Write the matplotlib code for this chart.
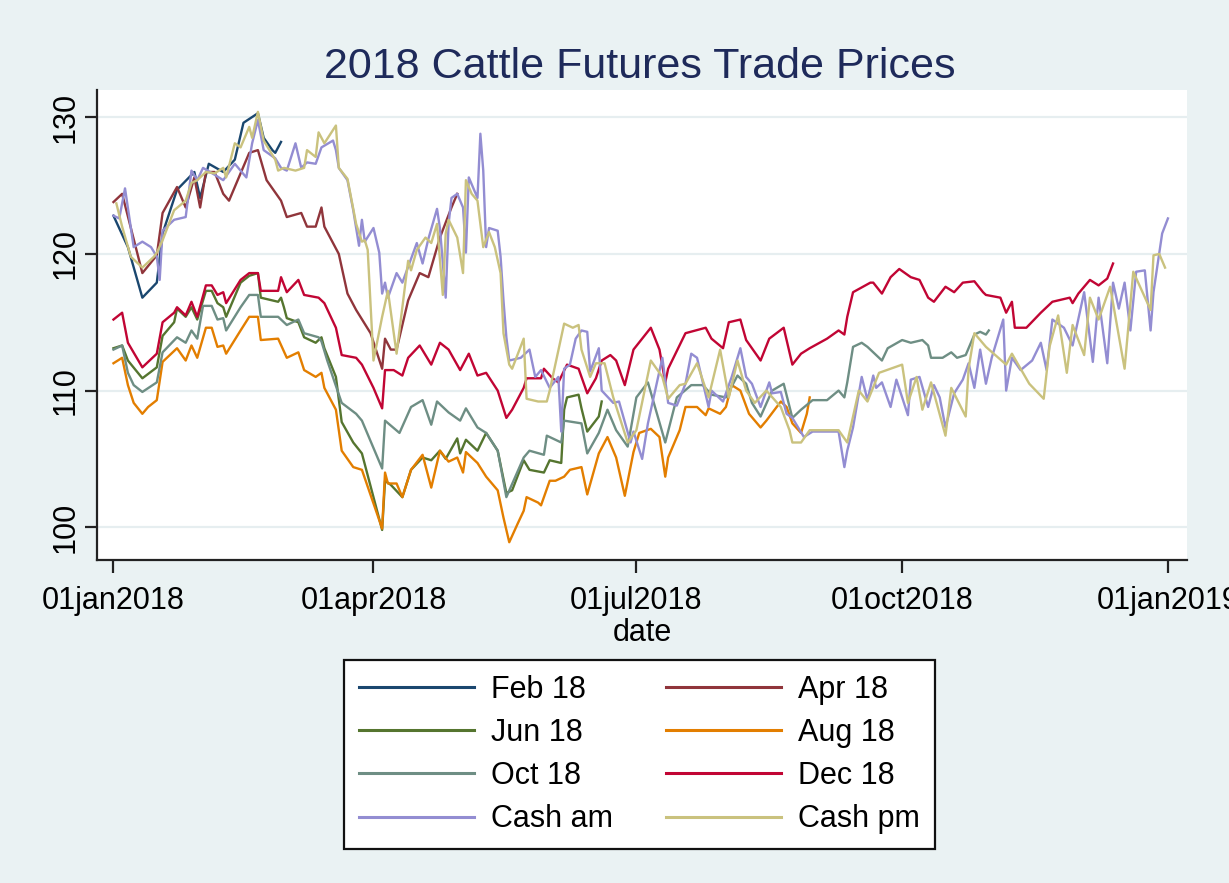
import numpy as np
import matplotlib
matplotlib.use("Agg")
import matplotlib.pyplot as plt
import matplotlib.dates as mdates

plt.rcParams['font.family'] = ['Liberation Sans', 'DejaVu Sans']

title = "2018 Cattle Futures Trade Prices"
base_date = "2018-01-01"
tick_dates = ["2018-01-01", "2018-04-01", "2018-07-01", "2018-10-01", "2019-01-01"]
tick_labels = ["01jan2018", "01apr2018", "01jul2018", "01oct2018", "01jan2019"]
y_ticks = [100, 110, 120, 130]

# day offsets from 01jan2018 and prices
feb_days = [0, 5, 10, 15, 17, 22, 28, 30, 33, 38, 42, 45, 50, 52, 55, 56, 58]
feb_vals = [122.8, 120.5, 116.8, 117.9, 121.5, 124.7, 126.0, 124.1, 126.6, 126.0, 126.9, 129.6, 130.3, 128.5, 127.6, 127.4, 128.2]

apr_days = [0, 3, 10, 15, 17, 22, 25, 28, 30, 32, 35, 38, 40, 44, 47, 50, 53, 58, 60, 65, 67, 70, 72, 73, 78,
            81, 84, 89, 93, 94, 96, 98, 102, 106, 109, 113, 117, 119]
apr_vals = [123.8, 124.4, 118.6, 119.9, 123.0, 124.9, 123.4, 125.6, 123.4, 126.0, 126.0, 124.4, 123.9, 125.9,
            127.4, 127.6, 125.4, 123.9, 122.7, 123.0, 122.0, 122.0, 123.4, 122.0, 120.0, 117.1, 115.9, 114.2,
            111.6, 113.8, 113.0, 113.0, 116.6, 118.6, 118.3, 121.2, 123.4, 124.4]

jun_days = [0, 3, 5, 10, 15, 17, 21, 22, 25, 27, 29, 32, 34, 36, 38, 39, 44, 47, 50, 51, 57, 58, 59, 60, 64,
            66, 70, 72, 73, 77, 79, 83, 86, 93, 94, 96, 100, 103, 107, 110, 113, 115, 119, 120, 122, 126, 129,
            133, 136, 138, 142, 144, 149, 151, 155, 156, 157, 161, 162, 164, 168, 169]
jun_vals = [113.1, 113.3, 112.2, 110.9, 111.7, 114.0, 115.0, 116.0, 115.4, 116.1, 115.2, 117.3, 117.3, 116.4,
            116.1, 115.4, 117.9, 118.4, 118.6, 116.8, 116.5, 116.8, 116.1, 115.3, 115.0, 113.9, 113.5, 113.9,
            113.1, 111.0, 107.7, 106.2, 105.4, 99.8, 103.4, 103.1, 102.2, 104.2, 105.1, 104.9, 105.6, 105.0,
            106.5, 105.4, 106.4, 105.6, 106.9, 105.6, 102.5, 102.7, 104.9, 104.2, 104.0, 104.9, 104.7, 108.6,
            109.5, 109.7, 108.7, 107.0, 108.1, 109.2]

aug_days = [0, 3, 5, 7, 10, 12, 15, 17, 22, 25, 27, 29, 32, 34, 36, 38, 39, 44, 47, 50, 51, 57, 60, 64, 66,
            70, 72, 73, 77, 79, 83, 86, 93, 94, 95, 98, 100, 103, 107, 110, 113, 116, 119, 121, 122, 126, 129,
            133, 135, 137, 140, 142, 143, 147, 148, 151, 153, 156, 158, 160, 162, 164, 168, 171, 174, 177, 180,
            182, 186, 189, 191, 192, 196, 198, 202, 205, 206, 210, 212, 214, 217, 220, 224, 226, 231, 233, 235,
            238, 240, 241]
aug_vals = [112.0, 112.4, 110.4, 109.1, 108.3, 108.8, 109.3, 112.1, 113.1, 112.2, 113.3, 112.4, 114.6, 114.6,
            113.2, 113.3, 112.7, 114.4, 115.4, 115.4, 113.7, 113.8, 112.4, 112.8, 111.5, 111.0, 111.3, 110.2,
            108.6, 105.6, 104.4, 104.2, 99.9, 104.0, 103.2, 103.2, 102.2, 104.2, 105.3, 102.9, 105.6, 104.8,
            105.1, 104.0, 105.5, 104.7, 103.7, 102.7, 100.7, 98.9, 100.3, 101.2, 102.2, 101.8, 101.6, 103.4,
            103.4, 103.7, 104.2, 104.3, 104.4, 102.4, 105.4, 106.6, 105.1, 102.3, 105.5, 106.9, 107.2, 106.6,
            103.7, 105.1, 107.1, 108.8, 108.8, 108.2, 108.7, 108.3, 108.8, 110.4, 110.0, 108.3, 107.3, 107.8,
            109.2, 108.8, 107.6, 106.9, 108.3, 109.5]

oct_days = [0, 3, 5, 7, 10, 15, 17, 22, 25, 27, 29, 31, 34, 36, 38, 39, 44, 47, 50, 51, 57, 60, 64, 66, 71,
            72, 74, 79, 84, 86, 93, 94, 99, 103, 107, 110, 112, 116, 120, 122, 126, 129, 133, 136, 142, 144,
            149, 150, 155, 156, 162, 164, 168, 171, 174, 178, 181, 185, 191, 195, 200, 204, 207, 212, 216, 219,
            221, 224, 228, 232, 235, 238, 242, 247, 251, 253, 254, 256, 259, 261, 263, 266, 268, 273, 276, 280,
            282, 283, 287, 290, 292, 295, 298, 300, 302, 303]
oct_vals = [113.0, 113.3, 111.3, 110.4, 109.9, 110.6, 112.8, 113.9, 113.5, 114.4, 113.8, 116.2, 116.2, 115.2,
            115.3, 114.4, 116.1, 117.0, 117.0, 115.4, 115.4, 114.8, 115.2, 114.2, 113.9, 113.6, 112.2, 109.1,
            108.3, 107.8, 104.3, 107.8, 106.9, 108.8, 109.3, 107.5, 109.2, 108.4, 107.8, 108.7, 107.3, 106.9,
            105.6, 102.2, 105.1, 105.6, 105.3, 106.7, 106.2, 107.8, 107.6, 105.4, 106.9, 108.6, 107.1, 105.9,
            109.5, 110.6, 106.2, 109.5, 110.4, 110.4, 109.7, 109.5, 111.1, 110.5, 109.1, 108.1, 110.0, 110.5,
            108.0, 108.6, 109.3, 109.3, 110.0, 109.5, 110.6, 113.2, 113.5, 113.2, 112.8, 112.2, 113.1, 113.7,
            113.5, 113.7, 113.3, 112.4, 112.4, 112.8, 112.4, 112.6, 114.1, 114.3, 114.1, 114.4]

dec_days = [0, 3, 5, 10, 15, 17, 21, 22, 25, 27, 29, 32, 34, 36, 38, 39, 44, 47, 50, 51, 57, 58, 60, 64, 66,
            71, 73, 77, 79, 84, 86, 90, 93, 94, 97, 100, 102, 106, 110, 113, 116, 120, 123, 126, 129, 133, 136,
            138, 142, 143, 148, 149, 152, 154, 157, 161, 164, 167, 169, 172, 174, 177, 180, 186, 189, 191, 192,
            198, 205, 207, 211, 213, 217, 219, 224, 227, 232, 235, 238, 241, 247, 251, 253, 254, 256, 262, 263,
            266, 269, 272, 276, 279, 282, 284, 288, 291, 294, 298, 301, 302, 307, 309, 311, 312, 316, 321, 325,
            331, 332, 334, 338, 341, 344, 346]
dec_vals = [115.2, 115.7, 113.5, 111.7, 112.7, 115.0, 115.7, 116.1, 115.5, 116.5, 115.4, 117.7, 117.7, 117.0,
            117.2, 116.4, 118.1, 118.6, 118.6, 117.3, 117.3, 118.3, 117.2, 118.1, 117.0, 116.8, 116.4, 114.6,
            112.6, 112.4, 111.9, 110.2, 108.7, 111.5, 111.5, 111.1, 112.4, 113.3, 111.9, 113.5, 113.0, 111.5,
            112.7, 111.1, 111.3, 110.0, 108.0, 108.6, 110.2, 110.9, 110.9, 111.6, 110.9, 110.6, 111.9, 111.6,
            109.8, 110.9, 112.2, 112.6, 112.2, 110.4, 113.0, 114.6, 113.0, 110.6, 111.6, 114.2, 114.6, 113.8,
            113.1, 115.0, 115.2, 113.7, 112.2, 113.8, 114.6, 111.9, 112.7, 113.1, 113.8, 114.4, 114.1, 115.4,
            117.2, 117.9, 117.9, 117.1, 118.3, 118.9, 118.3, 118.1, 116.8, 116.5, 117.6, 117.2, 117.9, 118.0,
            117.2, 117.0, 116.8, 115.7, 116.5, 114.6, 114.6, 115.7, 116.5, 116.8, 116.4, 117.1, 118.1, 117.7,
            118.2, 119.3]

cam_days = [0, 2, 4, 7, 10, 13, 15, 16, 17, 21, 25, 27, 29, 31, 35, 38, 42, 44, 46, 48, 50, 52, 56, 58, 60,
            63, 65, 67, 70, 72, 76, 77, 78, 81, 83, 85, 86, 87, 90, 92, 93, 94, 95, 98, 100, 105, 107, 109, 112,
            113, 115, 116, 117, 119, 121, 122, 123, 126, 127, 128, 129, 130, 133, 134, 135, 136, 137, 141, 144,
            146, 148, 151, 154, 155, 156, 158, 160, 162, 164, 165, 168, 169, 173, 175, 179, 180, 183, 185, 188,
            190, 192, 195, 198, 200, 202, 206, 207, 211, 214, 217, 219, 221, 224, 227, 228, 231, 233, 235, 237,
            239, 242, 247, 251, 253, 254, 256, 259, 261, 263, 264, 266, 269, 271, 275, 276, 279, 282, 284, 286,
            288, 291, 294, 296, 298, 300, 302, 304, 308, 309, 311, 314, 318, 321, 323, 325, 329, 332, 336, 339,
            341, 344, 346, 348, 350, 352, 354, 357, 359, 360, 363, 365]
cam_vals = [122.8, 122.6, 124.8, 120.5, 120.9, 120.5, 119.8, 118.1, 121.7, 122.5, 122.7, 126.1, 125.4, 126.3,
            125.8, 125.4, 126.6, 126.1, 125.6, 128.1, 129.8, 127.6, 127.0, 126.3, 126.1, 128.1, 126.3, 126.7,
            126.6, 127.8, 128.3, 127.6, 126.3, 125.4, 123.2, 120.6, 122.5, 120.9, 121.9, 120.1, 117.1, 117.9,
            116.8, 118.6, 117.9, 120.8, 119.3, 121.1, 123.3, 121.9, 116.8, 122.2, 124.1, 124.4, 123.4, 120.1,
            125.6, 124.1, 128.8, 126.1, 120.5, 121.9, 121.7, 119.8, 116.6, 113.9, 112.2, 112.4, 113.0, 111.0,
            111.5, 110.2, 111.0, 107.0, 111.6, 111.9, 113.8, 114.4, 114.3, 111.4, 113.1, 110.0, 109.1, 109.2,
            106.2, 107.0, 105.0, 107.6, 110.5, 112.4, 109.1, 108.9, 110.5, 112.7, 112.4, 108.8, 110.0, 109.2,
            111.0, 113.1, 111.0, 110.5, 108.8, 110.6, 109.8, 109.9, 108.3, 108.0, 107.3, 106.6, 107.0, 107.0,
            107.0, 104.4, 105.6, 107.3, 111.0, 109.3, 111.1, 110.2, 110.6, 108.8, 110.8, 108.2, 110.8, 111.0,
            108.8, 110.4, 109.5, 107.3, 109.8, 110.8, 112.0, 110.2, 113.0, 110.5, 112.4, 115.2, 110.0, 112.4,
            111.5, 112.2, 113.5, 111.5, 115.2, 114.6, 113.3, 117.2, 112.1, 116.8, 112.0, 117.9, 116.0, 117.9,
            114.4, 118.7, 118.8, 114.4, 117.2, 121.5, 122.6]

cpm_days = [1, 3, 6, 10, 14, 15, 17, 21, 25, 27, 29, 32, 35, 38, 39, 42, 44, 47, 48, 50, 52, 56, 57, 59, 63,
            66, 67, 70, 71, 73, 77, 78, 81, 84, 86, 87, 88, 90, 93, 95, 98, 102, 103, 105, 108, 110, 112, 114,
            115, 116, 119, 121, 122, 124, 126, 128, 130, 132, 134, 135, 137, 138, 142, 143, 147, 150, 151, 156,
            159, 161, 162, 165, 167, 170, 173, 178, 181, 186, 190, 192, 196, 198, 202, 206, 210, 213, 216, 219,
            222, 226, 231, 234, 235, 238, 241, 251, 254, 258, 261, 265, 273, 275, 278, 280, 283, 288, 290, 295,
            296, 298, 302, 309, 311, 317, 322, 324, 327, 330, 332, 336, 338, 341, 345, 350, 353, 359, 360, 362,
            364]
cpm_vals = [123.7, 122.0, 119.8, 119.0, 119.8, 120.1, 121.0, 123.2, 123.9, 125.2, 125.4, 126.0, 125.9, 126.3,
            125.6, 128.1, 127.8, 129.3, 128.5, 130.4, 128.3, 126.9, 126.1, 126.3, 126.1, 126.3, 127.6, 127.1,
            128.9, 128.1, 129.4, 126.3, 125.5, 122.2, 120.9, 121.0, 120.3, 112.2, 115.4, 117.3, 112.7, 119.5,
            118.8, 120.3, 121.2, 120.8, 122.2, 117.0, 121.5, 122.5, 121.2, 118.6, 125.4, 124.4, 123.9, 120.5,
            121.6, 120.5, 118.6, 114.2, 111.9, 111.6, 113.8, 109.4, 109.2, 109.2, 110.0, 114.9, 114.6, 114.8,
            113.0, 111.0, 112.0, 112.0, 109.5, 106.2, 107.1, 112.2, 111.0, 109.4, 110.4, 110.5, 112.0, 109.5,
            113.0, 109.5, 112.2, 110.0, 109.1, 110.0, 108.8, 107.1, 106.2, 106.2, 107.1, 107.1, 106.2, 110.0,
            109.2, 111.3, 111.9, 109.1, 111.0, 108.6, 110.6, 106.7, 110.2, 108.1, 111.6, 114.2, 113.2, 111.9,
            112.7, 110.5, 109.4, 113.2, 115.5, 111.3, 114.8, 112.6, 116.8, 115.2, 117.6, 111.6, 118.7, 115.9,
            119.9, 120.0, 119.0]

series = [
    ("Feb 18", feb_days, feb_vals, "#1a476f"),
    ("Apr 18", apr_days, apr_vals, "#90353b"),
    ("Jun 18", jun_days, jun_vals, "#55752f"),
    ("Aug 18", aug_days, aug_vals, "#e37e00"),
    ("Oct 18", oct_days, oct_vals, "#6e8e84"),
    ("Dec 18", dec_days, dec_vals, "#c10534"),
    ("Cash am", cam_days, cam_vals, "#938dd2"),
    ("Cash pm", cpm_days, cpm_vals, "#cac27e"),
]

W, H = 1229, 883
bg = "#eaf2f3"
fig = plt.figure(figsize=(W / 100, H / 100), dpi=100, facecolor=bg)
ax = fig.add_axes([97 / W, 1 - 560 / H, (1187 - 97) / W, (560 - 90) / H])
ax.set_facecolor("white")

start = np.datetime64(base_date)
handles = {}
for name, days, vals, col in series:
    dates = start + np.array(days, dtype="timedelta64[D]")
    ln, = ax.plot(dates, vals, color=col, lw=1.7, label=name, solid_joinstyle="round")
    handles[name] = ln

x0 = mdates.date2num(start)
ax.set_xlim(x0 - 5.7, x0 + 371.6)
ax.set_ylim(97.6, 132.0)

ax.set_xticks([mdates.date2num(np.datetime64(d)) for d in tick_dates])
ax.set_xticklabels(tick_labels)
ax.set_yticks(y_ticks)
ax.set_yticklabels([str(v) for v in y_ticks], rotation=90, va="center")
ax.grid(axis="y", color="#e6eef0", lw=1.6)
ax.set_axisbelow(True)

for s in ["top", "right"]:
    ax.spines[s].set_visible(False)
for s in ["left", "bottom"]:
    ax.spines[s].set_linewidth(1.6)
    ax.spines[s].set_color("#222222")
ax.tick_params(axis="both", length=9, width=1.6, color="#222222", labelsize=22)
ax.tick_params(axis="x", pad=10)
ax.tick_params(axis="y", pad=3)
ax.set_xlabel("date", fontsize=22, labelpad=1)

fig.text(640 / W, 1 - 78 / H, title, ha="center", va="baseline", fontsize=31, color="#1e2a5a")

order = ["Feb 18", "Jun 18", "Oct 18", "Cash am", "Apr 18", "Aug 18", "Dec 18", "Cash pm"]
leg = fig.legend([handles[n] for n in order], order, ncol=2, loc="center",
                 bbox_to_anchor=(639.5 / W, 1 - 754.5 / H), fontsize=22,
                 handlelength=3.75, handletextpad=0.55, columnspacing=1.75,
                 labelspacing=0.43, borderpad=0.5, fancybox=False, framealpha=1)
leg.get_frame().set_edgecolor("#111111")
leg.get_frame().set_linewidth(1.6)
for l in leg.get_lines():
    l.set_linewidth(2.2)

fig.savefig("out.png", dpi=100, facecolor=bg)
